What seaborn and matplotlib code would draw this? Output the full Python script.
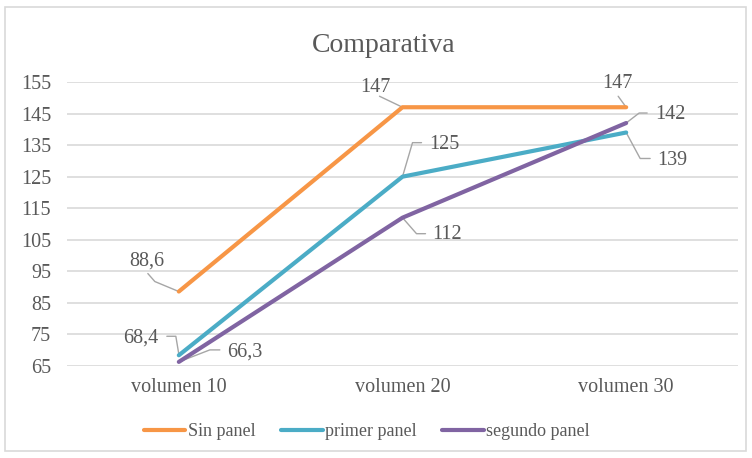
import matplotlib
matplotlib.use("Agg")
import matplotlib.pyplot as plt
import seaborn as sns
import pandas as pd
import numpy as np
from matplotlib.patches import Rectangle

categories = ["volumen 10", "volumen 20", "volumen 30"]
series_names = ["Sin panel", "primer panel", "segundo panel"]
sin_panel = [88.6, 147, 147]
primer_panel = [68.4, 125, 139]
segundo_panel = [66.3, 112, 142]
label_texts = {
    "Sin panel": ["88,6", "147", "147"],
    "primer panel": ["68,4", "125", "139"],
    "segundo panel": ["66,3", "112", "142"],
}
y_ticks = [65, 75, 85, 95, 105, 115, 125, 135, 145, 155]
colors = ["#F79646", "#4BACC6", "#8064A2"]

df = pd.DataFrame({
    "categoria": categories * 3,
    "serie": [s for s in series_names for _ in categories],
    "valor": sin_panel + primer_panel + segundo_panel,
})

sns.set_theme(style="white")
plt.rcParams["font.family"] = ["Liberation Serif", "DejaVu Serif"]
txt = "#595959"
W, H = 752, 458
fig = plt.figure(figsize=(W / 100, H / 100), dpi=100)
ax = fig.add_axes([67 / W, 1 - 366 / H, (738 - 67) / W, (366 - 82) / H])

sns.lineplot(data=df, x="categoria", y="valor", hue="serie", hue_order=series_names,
             palette=colors, linewidth=3, ax=ax, legend=False, sort=False)
for ln in ax.lines:
    ln.set_solid_capstyle("round")
    ln.set_solid_joinstyle("round")

ax.set_xlim(-0.5, 2.5)
ax.set_ylim(65, 155)
ax.set_yticks(y_ticks)
ax.set_xticks(range(len(categories)))
ax.set_xticklabels(categories)
ax.set_xlabel("")
ax.set_ylabel("")
for s in ax.spines.values():
    s.set_visible(False)
ax.grid(axis="y", color="#D9D9D9", linewidth=1.2)
ax.grid(axis="x", visible=False)
ax.set_axisbelow(True)
ax.tick_params(axis="both", length=0, labelsize=14.5, colors=txt)
ax.tick_params(axis="y", pad=11.5)
ax.tick_params(axis="x", pad=9)

# data labels with leader lines (offsets in pixels, image y downward)
label_layout = {
    "Sin panel": [((-32, -30), [(-31, -18), (-24, -10), (0, 0)]),
                  ((-27, -20), [(-23, -11), (0, 0)]),
                  ((-9, -24), [(-8, -11), (0, 0)])],
    "primer panel": [((-38, -17), [(-12, -19), (-3, -19), (0, -1)]),
                     ((42, -32), [(19, -34), (10, -34), (0, 0)]),
                     ((46, 28), [(24, 26), (14, 26), (0, 0)])],
    "segundo panel": [((66, -10), [(41, -12), (31, -12), (0, 0)]),
                      ((45, 17), [(23, 16), (14, 16), (0, 0)]),
                      ((44, -9), [(21, -10), (13, -10), (0, 0)])],
}
values = {"Sin panel": sin_panel, "primer panel": primer_panel, "segundo panel": segundo_panel}
inv = ax.transData.inverted()
for name in series_names:
    for i, v in enumerate(values[name]):
        px, py = ax.transData.transform((i, v))
        (ldx, ldy), verts = label_layout[name][i]
        pts = [inv.transform((px + dx, py - dy)) for dx, dy in verts]
        ax.plot([p[0] for p in pts], [p[1] for p in pts], color="#A6A6A6",
                linewidth=1.0, zorder=1, clip_on=False)
        lx, ly = inv.transform((px + ldx, py - ldy))
        ax.text(lx, ly, label_texts[name][i], ha="center", va="center",
                fontsize=14.5, color=txt, clip_on=False)

fig.text(384 / W, 1 - 45 / H, "Comparativa", ha="center", va="center",
         fontsize=20, color=txt)

handles = [plt.Line2D([0], [0], color=c, linewidth=3, solid_capstyle="round") for c in colors]
fig.legend(handles, series_names, loc="center", bbox_to_anchor=(367 / W, 1 - 432 / H),
           ncol=3, frameon=False, fontsize=13, handlelength=2.3, handletextpad=0.15,
           columnspacing=1.4, labelcolor=txt)

fig.patches.append(Rectangle((5 / W, 1 - 451 / H), 741 / W, 444 / H, transform=fig.transFigure,
                             fill=False, edgecolor="#D9D9D9", linewidth=1.2))

fig.savefig("out.png", dpi=100)
